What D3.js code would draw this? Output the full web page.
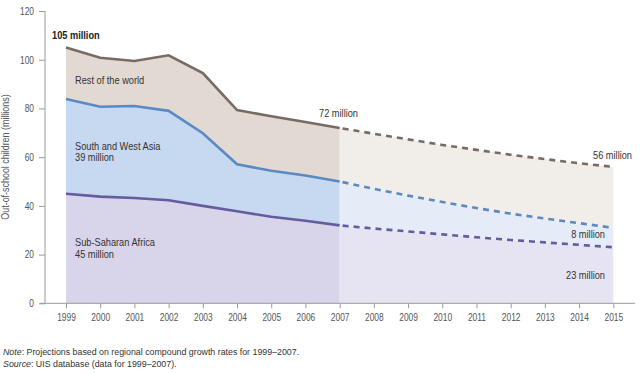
<!DOCTYPE html>
<html><head><meta charset="utf-8">
<script src="https://cdn.jsdelivr.net/npm/d3@7"></script>
<style>
body{margin:0;background:#fff;}
svg{display:block;font-family:"Liberation Sans",Arial,sans-serif;}
</style></head>
<body><svg id="c" width="640" height="374"></svg>
<script>
const years = [1999,2000,2001,2002,2003,2004,2005,2006,2007,2008,2009,2010,2011,2012,2013,2014,2015];
const subSaharanAfrica = [45,43.8,43.2,42.3,40,37.8,35.5,33.9,32,30.7,29.5,28.3,27.1,26.0,25.0,24.0,23];
const southWestAsia = [38.9,36.9,37.8,36.7,29.8,19.3,18.9,18.6,18,16.3,14.7,13.3,12.0,10.8,9.8,8.9,8];
const restOfWorld = [21.1,20.1,18.5,22.8,24.7,22.2,22.4,21.9,22,22.6,23.1,23.4,23.9,24.2,24.4,24.6,25];
const yTicks = [0,20,40,60,80,100,120];
const lastObserved = 2007;

const svg = d3.select("#c");
const x = d3.scaleLinear().domain([1999,2015]).range([66,613.3]);
const y = d3.scaleLinear().domain([0,120]).range([303.3,11]);

const rows = years.map((yr,i)=>({year:yr, ssa:subSaharanAfrica[i], swa:southWestAsia[i], rest:restOfWorld[i]}));
const keys = ["ssa","swa","rest"];
const stack = d3.stack().keys(keys)(rows);

const fillSolid = {ssa:"#d8d4e9", swa:"#c7d9f0", rest:"#e2d9d3"};
const fillProj  = {ssa:"#e6e4f2", swa:"#e5ecf7", rest:"#f1ede8"};
const lineCol   = {ssa:"#635c9e", swa:"#5a89c3", rest:"#786b63"};

const area = d3.area().x(d=>x(d.data.year)).y0(d=>y(d[0])).y1(d=>y(d[1]));
const line = d3.line().x(d=>x(d.data.year)).y(d=>y(d[1]));

stack.forEach(s=>{
  const obs = s.filter(d=>d.data.year<=lastObserved);
  const proj = s.filter(d=>d.data.year>=lastObserved);
  svg.append("path").attr("d",area(obs)).attr("fill",fillSolid[s.key]);
  svg.append("path").attr("d",area(proj)).attr("fill",fillProj[s.key]);
});
stack.forEach(s=>{
  const obs = s.filter(d=>d.data.year<=lastObserved);
  const proj = s.filter(d=>d.data.year>=lastObserved);
  svg.append("path").attr("d",line(obs)).attr("fill","none").attr("stroke",lineCol[s.key]).attr("stroke-width",2.6);
  svg.append("path").attr("d",line(proj)).attr("fill","none").attr("stroke",lineCol[s.key]).attr("stroke-width",2.6).attr("stroke-dasharray","6,5").attr("stroke-dashoffset",-3);
});

// axes
const axCol="#9a9a9a", txtCol="#555";
const SX = 0.8;
const yAxis = svg.append("g").attr("transform","translate(45,0)")
  .call(d3.axisLeft(y).tickValues(yTicks).tickSize(6).tickPadding(4));
const xAxis = svg.append("g").attr("transform","translate(0,303.3)")
  .call(d3.axisBottom(x).tickValues(years).tickFormat(d3.format("d")).tickSize(5).tickPadding(5));
[yAxis,xAxis].forEach(g=>{
  g.select(".domain").remove();
  g.selectAll("line").attr("stroke",axCol);
  g.selectAll("text").attr("fill",txtCol).style("font-size","10.5px").style("font-family","inherit");
});
yAxis.selectAll("text").attr("x",null).attr("transform",`translate(-11,0) scale(${SX},1)`);
xAxis.selectAll("text").attr("transform",`scale(${SX},1)`);
svg.append("line").attr("x1",45).attr("x2",45).attr("y1",y(120)).attr("y2",y(0)).attr("stroke",axCol);
svg.append("line").attr("x1",40).attr("x2",635).attr("y1",y(0)).attr("y2",y(0)).attr("stroke",axCol);

svg.append("text").attr("transform",`translate(9,157) rotate(-90) scale(${SX+0.05},1)`).attr("text-anchor","middle")
  .attr("fill",txtCol).style("font-size","10.5px").text("Out-of-school children (millions)");

// labels
const lbl = (t,xx,yy,opt={})=>svg.append("text").attr("transform",`translate(${xx},${yy}) scale(${SX+0.04},1)`).attr("fill",opt.fill||"#333")
  .attr("text-anchor",opt.anchor||"start").style("font-size","11px").style("font-weight",opt.bold?"bold":"normal").text(t);
lbl("105 million",52,39,{bold:true,fill:"#222"});
lbl("Rest of the world",75,84);
lbl("South and West Asia",75,150);
lbl("39 million",75,161);
lbl("Sub-Saharan Africa",75,246);
lbl("45 million",75,258);
lbl("72 million",358,117,{anchor:"end"});
lbl("56 million",632,159,{anchor:"end"});
lbl("8 million",605,238,{anchor:"end"});
lbl("23 million",605,279,{anchor:"end"});

// notes
const note = svg.append("text").attr("transform","translate(3,355) scale(0.93,1)").attr("fill","#333").style("font-size","9.5px");
note.append("tspan").style("font-style","italic").text("Note");
note.append("tspan").text(": Projections based on regional compound growth rates for 1999–2007.");
const src = svg.append("text").attr("transform","translate(3,367) scale(0.93,1)").attr("fill","#333").style("font-size","9.5px");
src.append("tspan").style("font-style","italic").text("Source");
src.append("tspan").text(": UIS database (data for 1999–2007).");
</script></body></html>
